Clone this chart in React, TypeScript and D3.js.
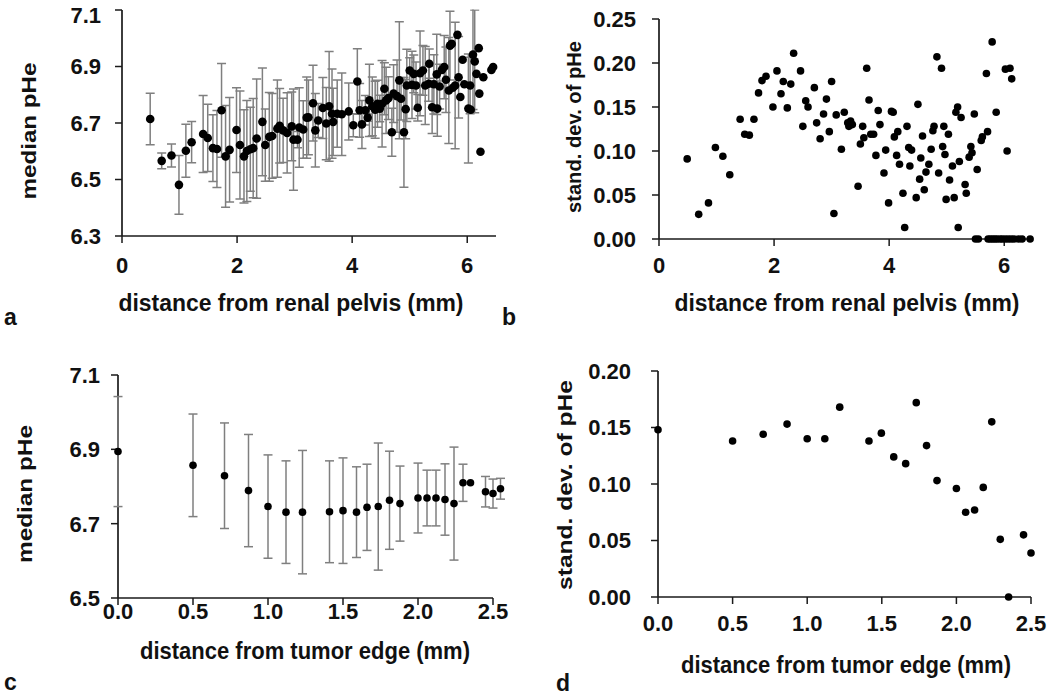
import React from 'react';
import * as d3 from 'd3';

// ---------- Panel a: median pHe vs distance from renal pelvis ----------
const aDist = [0.49, 0.69, 0.86, 0.99, 1.11, 1.21, 1.41, 1.49, 1.58, 1.65, 1.73, 1.80, 1.87, 1.99, 2.05, 2.12, 2.17, 2.23, 2.28, 2.34, 2.44, 2.49, 2.56, 2.61, 2.70, 2.74, 2.80, 2.87, 2.95, 2.98, 3.05, 3.08, 3.15, 3.21, 3.24, 3.32, 3.36, 3.41, 3.49, 3.55, 3.60, 3.65, 3.67, 3.74, 3.82, 3.94, 4.02, 4.09, 4.13, 4.17, 4.23, 4.27, 4.30, 4.35, 4.40, 4.44, 4.48, 4.52, 4.56, 4.59, 4.63, 4.69, 4.72, 4.78, 4.82, 4.85, 4.90, 4.93, 4.95, 5.00, 5.04, 5.07, 5.11, 5.14, 5.18, 5.23, 5.27, 5.33, 5.34, 5.39, 5.42, 5.47, 5.48, 5.52, 5.56, 5.60, 5.63, 5.68, 5.70, 5.73, 5.75, 5.79, 5.83, 5.85, 5.88, 5.92, 5.95, 6.02, 6.05, 6.06, 6.10, 6.13, 6.16, 6.20, 6.21, 6.23, 6.28, 6.42, 6.45];
const aMedian = [6.714, 6.566, 6.585, 6.481, 6.602, 6.632, 6.661, 6.647, 6.611, 6.608, 6.745, 6.582, 6.605, 6.675, 6.622, 6.582, 6.601, 6.607, 6.611, 6.645, 6.704, 6.622, 6.651, 6.654, 6.680, 6.690, 6.674, 6.665, 6.688, 6.641, 6.641, 6.684, 6.677, 6.719, 6.720, 6.770, 6.674, 6.709, 6.753, 6.698, 6.759, 6.733, 6.704, 6.733, 6.731, 6.741, 6.692, 6.847, 6.745, 6.695, 6.745, 6.719, 6.780, 6.759, 6.747, 6.768, 6.751, 6.768, 6.821, 6.780, 6.788, 6.667, 6.804, 6.795, 6.851, 6.786, 6.667, 6.749, 6.833, 6.886, 6.835, 6.874, 6.833, 6.754, 6.876, 6.886, 6.833, 6.839, 6.910, 6.756, 6.837, 6.872, 6.751, 6.829, 6.888, 6.898, 6.853, 6.815, 6.974, 6.980, 6.825, 6.833, 7.012, 6.862, 6.792, 6.924, 6.837, 6.751, 6.833, 6.747, 6.942, 6.918, 6.874, 6.965, 6.804, 6.598, 6.862, 6.888, 6.898];
const aErr = [0.091, 0.028, 0.041, 0.104, 0.094, 0.073, 0.136, 0.119, 0.118, 0.136, 0.166, 0.180, 0.185, 0.150, 0.191, 0.165, 0.179, 0.149, 0.176, 0.211, 0.191, 0.128, 0.157, 0.150, 0.172, 0.132, 0.114, 0.142, 0.122, 0.179, 0.029, 0.141, 0.102, 0.144, 0.132, 0.134, 0.130, 0.060, 0.108, 0.128, 0.194, 0.158, 0.119, 0.119, 0.146, 0.101, 0.041, 0.116, 0.095, 0.085, 0.052, 0.013, 0.128, 0.104, 0.101, 0.083, 0.047, 0.153, 0.092, 0.117, 0.076, 0.085, 0.102, 0.128, 0.207, 0.075, 0.194, 0.105, 0.128, 0.045, 0.119, 0.067, 0.083, 0.047, 0.150, 0.088, 0.138, 0.062, 0.052, 0.093, 0.105, 0.142, 0.098, 0.079, 0, 0.112, 0.116, 0.188, 0.122, 0, 0, 0.224, 0, 0.144, 0, 0, 0, 0.193, 0.100, 0, 0.194, 0.182, 0, 0, 0, 0, 0, 0, 0];

// ---------- Panel b: standard deviation of pHe vs distance from renal pelvis ----------
const bDist = [0.49, 0.69, 0.86, 0.98, 1.11, 1.23, 1.41, 1.49, 1.57, 1.65, 1.73, 1.79, 1.86, 1.98, 2.05, 2.12, 2.16, 2.23, 2.29, 2.34, 2.46, 2.50, 2.55, 2.59, 2.70, 2.74, 2.80, 2.86, 2.91, 2.96, 3.00, 3.04, 3.08, 3.17, 3.22, 3.28, 3.30, 3.33, 3.36, 3.46, 3.50, 3.54, 3.56, 3.61, 3.65, 3.68, 3.73, 3.77, 3.81, 3.84, 3.91, 3.94, 3.99, 4.04, 4.07, 4.09, 4.13, 4.15, 4.18, 4.24, 4.27, 4.31, 4.34, 4.36, 4.39, 4.47, 4.50, 4.53, 4.55, 4.58, 4.61, 4.64, 4.69, 4.73, 4.76, 4.78, 4.83, 4.86, 4.91, 4.93, 4.95, 4.97, 4.99, 5.03, 5.05, 5.10, 5.13, 5.16, 5.19, 5.20, 5.22, 5.25, 5.32, 5.34, 5.39, 5.42, 5.44, 5.48, 5.53, 5.60, 5.62, 5.69, 5.71, 5.79, 5.86, 6.02, 6.05, 6.10, 6.13, 5.50, 5.55, 5.72, 5.76, 5.80, 5.84, 5.88, 5.93, 5.97, 6.02, 6.07, 6.12, 6.17, 6.25, 6.31, 6.45];
const bSd = [0.091, 0.028, 0.041, 0.104, 0.094, 0.073, 0.136, 0.119, 0.118, 0.136, 0.166, 0.180, 0.185, 0.150, 0.191, 0.165, 0.179, 0.149, 0.176, 0.211, 0.191, 0.128, 0.157, 0.150, 0.172, 0.132, 0.114, 0.142, 0.159, 0.122, 0.179, 0.029, 0.141, 0.102, 0.144, 0.132, 0.128, 0.134, 0.130, 0.060, 0.108, 0.128, 0.115, 0.194, 0.158, 0.119, 0.119, 0.095, 0.146, 0.130, 0.075, 0.101, 0.041, 0.145, 0.144, 0.116, 0.095, 0.122, 0.085, 0.052, 0.013, 0.128, 0.104, 0.083, 0.101, 0.047, 0.153, 0.068, 0.092, 0.117, 0.056, 0.076, 0.085, 0.102, 0.123, 0.128, 0.207, 0.075, 0.194, 0.105, 0.128, 0.096, 0.045, 0.119, 0.067, 0.083, 0.047, 0.144, 0.150, 0.013, 0.088, 0.138, 0.062, 0.052, 0.093, 0.105, 0.098, 0.142, 0.079, 0.112, 0.116, 0.188, 0.122, 0.224, 0.144, 0.193, 0.100, 0.194, 0.182, 0, 0, 0, 0, 0, 0, 0, 0, 0, 0, 0, 0, 0, 0, 0, 0];

// ---------- Panel c: median pHe vs distance from tumor edge ----------
const cDist = [0, 0.50, 0.71, 0.87, 1.00, 1.12, 1.23, 1.41, 1.50, 1.59, 1.66, 1.735, 1.81, 1.88, 2.00, 2.06, 2.12, 2.18, 2.24, 2.30, 2.35, 2.45, 2.50, 2.55];
const cMedian = [6.894, 6.857, 6.829, 6.789, 6.746, 6.731, 6.731, 6.732, 6.735, 6.731, 6.744, 6.746, 6.763, 6.754, 6.769, 6.769, 6.769, 6.765, 6.754, 6.810, 6.810, 6.786, 6.781, 6.794];
const cErr = [0.148, 0.138, 0.142, 0.151, 0.139, 0.138, 0.166, 0.137, 0.142, 0.122, 0.116, 0.171, 0.132, 0.101, 0.094, 0.075, 0.075, 0.096, 0.152, 0.050, 0, 0.041, 0.039, 0.028];

// ---------- Panel d: standard deviation of pHe vs distance from tumor edge ----------
const dDist = [0, 0.50, 0.705, 0.865, 1.00, 1.118, 1.218, 1.414, 1.497, 1.58, 1.66, 1.731, 1.80, 1.87, 2.00, 2.062, 2.122, 2.18, 2.237, 2.294, 2.35, 2.45, 2.50];
const dSd = [0.148, 0.138, 0.144, 0.153, 0.140, 0.140, 0.168, 0.138, 0.145, 0.124, 0.118, 0.172, 0.134, 0.103, 0.096, 0.075, 0.077, 0.097, 0.155, 0.051, 0.0, 0.055, 0.039];

// ---------- Tick labels ----------
const aXTicks = [0, 2, 4, 6];
const aYTicks = [6.3, 6.5, 6.7, 6.9, 7.1];
const bXTicks = [0, 2, 4, 6];
const bYTicks = [0, 0.05, 0.1, 0.15, 0.2, 0.25];
const cXTicks = [0, 0.5, 1.0, 1.5, 2.0, 2.5];
const cYTicks = [6.5, 6.7, 6.9, 7.1];
const dXTicks = [0, 0.5, 1.0, 1.5, 2.0, 2.5];
const dYTicks = [0, 0.05, 0.1, 0.15, 0.2];

const FONT = '"Liberation Sans", Arial, Helvetica, sans-serif';
const AXIS = '#1a1a1a';
const BAR = '#7f7f7f';
const TXT = '#111';

type PanelProps = {
  id: string;
  xr: [number, number];
  yr: [number, number];
  xd: [number, number];
  yd: [number, number];
  xTicks: number[];
  yTicks: number[];
  xFmt: (v: number) => string;
  yFmt: (v: number) => string;
  xs: number[];
  ys: number[];
  errs?: number[];
  r: number;
  xTitle: string;
  xTitleX: number;
  xTitleY: number;
  xTitleLen: number;
  yTitle: string;
  yTitleX: number;
  yTitleY: number;
  yTitleLen: number;
  xLabelY: number;
  yLabelGap: number;
  clip?: boolean;
};

function Panel(p: PanelProps) {
  const x = d3.scaleLinear().domain(p.xd).range(p.xr);
  const y = d3.scaleLinear().domain(p.yd).range(p.yr);
  const left = p.xr[0];
  const bottom = p.yr[0];
  const top = p.yr[1];
  const right = p.xr[1];
  const clipId = `clip-${p.id}`;
  return (
    <g>
      <defs>
        <clipPath id={clipId}>
          <rect x={0} y={top - 0.5} width={1050} height={bottom - top + 6} />
        </clipPath>
      </defs>
      {/* axes */}
      <line x1={left} x2={left} y1={top} y2={bottom} stroke={AXIS} strokeWidth={1.7} />
      <line x1={left} x2={right} y1={bottom} y2={bottom} stroke={AXIS} strokeWidth={1.7} />
      {p.yTicks.map((t) => (
        <g key={`yt${t}`}>
          <line x1={left - 7} x2={left} y1={y(t)} y2={y(t)} stroke={AXIS} strokeWidth={1.5} />
          <text x={left - p.yLabelGap} y={Math.max(y(t), 15)} dy="0.36em" textAnchor="end" fontSize={22} fontWeight="bold" fontFamily={FONT} fill={TXT}>
            {p.yFmt(t)}
          </text>
        </g>
      ))}
      {p.xTicks.map((t) => (
        <g key={`xt${t}`}>
          <line x1={x(t)} x2={x(t)} y1={bottom} y2={bottom + 7} stroke={AXIS} strokeWidth={1.5} />
          <text x={x(t)} y={p.xLabelY} textAnchor="middle" fontSize={22} fontWeight="bold" fontFamily={FONT} fill={TXT}>
            {p.xFmt(t)}
          </text>
        </g>
      ))}
      {/* titles */}
      <text x={p.xTitleX} y={p.xTitleY} textAnchor="middle" fontSize={23} fontWeight="bold" fontFamily={FONT} fill={TXT}
        textLength={p.xTitleLen} lengthAdjust="spacingAndGlyphs">
        {p.xTitle}
      </text>
      <text transform={`translate(${p.yTitleX},${p.yTitleY}) rotate(-90)`} textAnchor="middle" fontSize={21} fontWeight="bold" fontFamily={FONT} fill={TXT}
        textLength={p.yTitleLen} lengthAdjust="spacingAndGlyphs">
        {p.yTitle}
      </text>
      {/* data */}
      <g clipPath={p.clip ? `url(#${clipId})` : undefined}>
        {p.errs && p.xs.map((xv, i) => {
          const e = p.errs![i];
          if (!e) return null;
          const cx = x(xv);
          const y1 = y(p.ys[i] - e);
          const y2 = y(p.ys[i] + e);
          return (
            <g key={`e${i}`} stroke={BAR} strokeWidth={1.5}>
              <line x1={cx} x2={cx} y1={y1} y2={y2} />
              <line x1={cx - 4.5} x2={cx + 4.5} y1={y1} y2={y1} />
              <line x1={cx - 4.5} x2={cx + 4.5} y1={y2} y2={y2} />
            </g>
          );
        })}
        {p.xs.map((xv, i) => (
          <circle key={`p${i}`} cx={x(xv)} cy={y(p.ys[i])} r={p.r} fill="#000" />
        ))}
      </g>
    </g>
  );
}

const f1 = (v: number) => d3.format('.1f')(v);
const f0 = (v: number) => d3.format('d')(v);
const f2 = (v: number) => d3.format('.2f')(v);

export default function App() {
  return (
    <svg width={1050} height={698} style={{ position: 'absolute', left: 0, top: 0, background: '#fff' }}>
      <rect width={1050} height={698} fill="#fff" />
      <Panel id="a" xr={[122, 496]} yr={[236, 10]} xd={[0, 6.5]} yd={[6.3, 7.1]} xTicks={aXTicks} yTicks={aYTicks}
        xFmt={f0} yFmt={f1} xs={aDist} ys={aMedian} errs={aErr} r={4.3}
        xTitle="distance from renal pelvis (mm)" xTitleX={291} xTitleY={311} xTitleLen={345} xLabelY={273}
        yTitle="median pHe" yTitleX={36} yTitleY={131} yTitleLen={137} yLabelGap={21} clip />
      <Panel id="b" xr={[659, 1033]} yr={[239, 19]} xd={[0, 6.5]} yd={[0, 0.25]} xTicks={bXTicks} yTicks={bYTicks}
        xFmt={f0} yFmt={f2} xs={bDist} ys={bSd} r={3.8}
        xTitle="distance from renal pelvis (mm)" xTitleX={847} xTitleY={311} xTitleLen={345} xLabelY={273}
        yTitle="stand. dev. of pHe" yTitleX={581} yTitleY={127} yTitleLen={172} yLabelGap={23} />
      <Panel id="c" xr={[118, 493]} yr={[598, 375]} xd={[0, 2.5]} yd={[6.5, 7.1]} xTicks={cXTicks} yTicks={cYTicks}
        xFmt={f1} yFmt={f1} xs={cDist} ys={cMedian} errs={cErr} r={3.8}
        xTitle="distance from tumor edge (mm)" xTitleX={305} xTitleY={659} xTitleLen={330} xLabelY={619}
        yTitle="median pHe" yTitleX={32} yTitleY={494} yTitleLen={138} yLabelGap={18} />
      <Panel id="d" xr={[658, 1031]} yr={[597, 371]} xd={[0, 2.5]} yd={[0, 0.2]} xTicks={dXTicks} yTicks={dYTicks}
        xFmt={f1} yFmt={f2} xs={dDist} ys={dSd} r={3.8}
        xTitle="distance from tumor edge (mm)" xTitleX={846} xTitleY={673} xTitleLen={330} xLabelY={631}
        yTitle="stand. dev. of pHe" yTitleX={572} yTitleY={485} yTitleLen={210} yLabelGap={27} />
      {/* panel letters */}
      <text x={4} y={325} fontSize={23} fontWeight="bold" fontFamily={FONT} fill={TXT}>a</text>
      <text x={502} y={325} fontSize={23} fontWeight="bold" fontFamily={FONT} fill={TXT}>b</text>
      <text x={4} y={690} fontSize={23} fontWeight="bold" fontFamily={FONT} fill={TXT}>c</text>
      <text x={556} y={691} fontSize={23} fontWeight="bold" fontFamily={FONT} fill={TXT}>d</text>
    </svg>
  );
}
